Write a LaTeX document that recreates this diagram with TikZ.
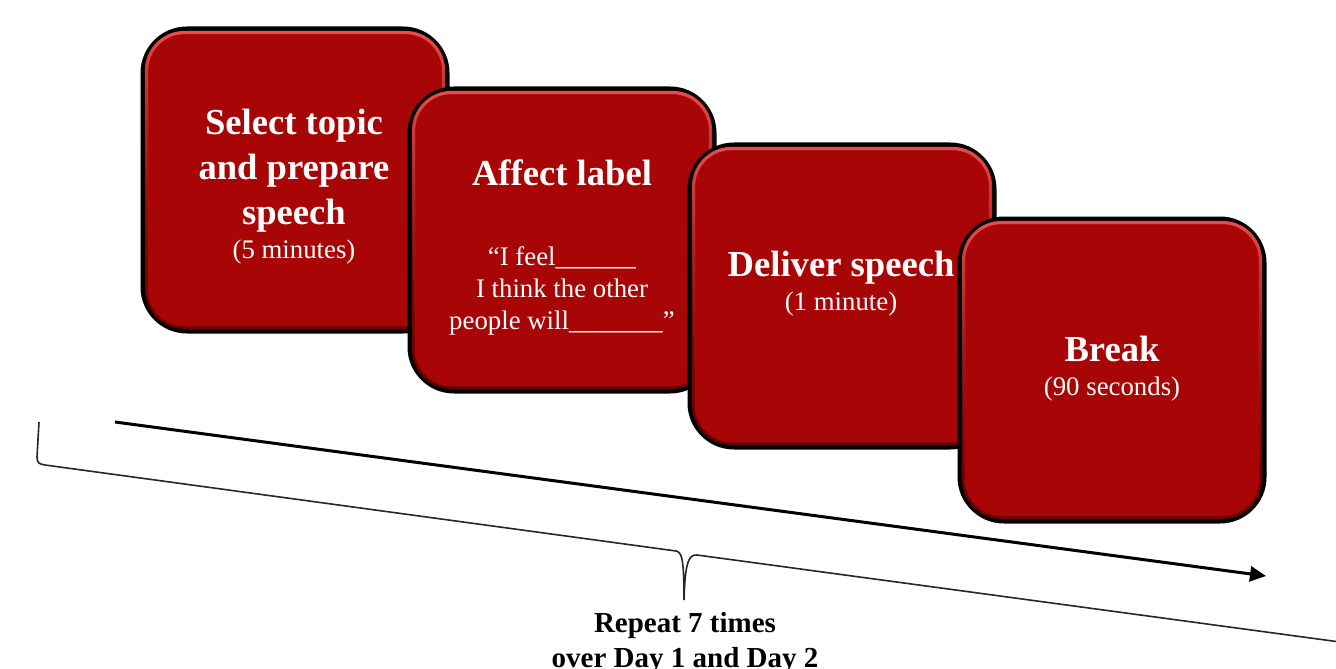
\documentclass[tikz,border=0pt]{standalone}
\usepackage{fontspec}
\setmainfont{Liberation Serif}
\usetikzlibrary{arrows.meta,fadings}
\definecolor{cardred}{RGB}{168,6,6}
\definecolor{cardhi}{RGB}{236,78,78}
\definecolor{carddk}{RGB}{110,0,0}
\begin{document}
\begin{tikzpicture}[x=0.5pt,y=-0.5pt,
  card/.style={draw=black, line width=2.5pt, fill=cardred, rounded corners=22pt,
    minimum width=152pt, minimum height=151pt, inner sep=0pt},
  head/.style={text=white, font=\fontsize{18.3}{22}\selectfont\bfseries, anchor=base, inner sep=0pt},
  sub/.style={text=white, font=\fontsize{13.4}{16}\selectfont, anchor=base, inner sep=0pt},
  foot/.style={text=black, font=\fontsize{14.5}{18}\selectfont\bfseries, anchor=base, inner sep=0pt},
  hi/.style={cardhi, line width=1.6pt, rounded corners=19pt, path fading=south},
  lo/.style={carddk, line width=1.4pt, rounded corners=19pt, path fading=north},
  flow/.style={line width=1.5pt, -{Triangle[length=8pt,width=7.5pt]}},
  brace/.style={line width=0.8pt, black!85}]
\useasboundingbox (0,0) rectangle (1336,668);
\clip (0,0) rectangle (1336,668);

% card 1
\node[card] (b1) at (295,180) {};
\draw[hi] ([xshift=3pt,yshift=-3pt]b1.north west) rectangle ([xshift=-3pt,yshift=3pt]b1.south east);
\draw[lo] ([xshift=3pt,yshift=-3pt]b1.north west) rectangle ([xshift=-3pt,yshift=3pt]b1.south east);
\node[head] (t1a) at (294,135) {Select topic};
\node[head] (t1b) at (294,180) {and prepare};
\node[head] (t1c) at (294,224) {speech};
\node[sub]  (t1d) at (294,258) {(5 minutes)};

% card 2
\node[card] (b2) at (562,240) {};
\draw[hi] ([xshift=3pt,yshift=-3pt]b2.north west) rectangle ([xshift=-3pt,yshift=3pt]b2.south east);
\draw[lo] ([xshift=3pt,yshift=-3pt]b2.north west) rectangle ([xshift=-3pt,yshift=3pt]b2.south east);
\node[head] (t2a) at (562,185) {Affect label};
\node[sub]  (t2b) at (562,265) {“I feel\_\_\_\_\_\_};
\node[sub]  (t2c) at (562,297) {I think the other};
\node[sub]  (t2d) at (562,329) {people will\_\_\_\_\_\_\_”};

% card 3
\node[card] (b3) at (842,296) {};
\draw[hi] ([xshift=3pt,yshift=-3pt]b3.north west) rectangle ([xshift=-3pt,yshift=3pt]b3.south east);
\draw[lo] ([xshift=3pt,yshift=-3pt]b3.north west) rectangle ([xshift=-3pt,yshift=3pt]b3.south east);
\node[head] (t3a) at (841,276) {Deliver speech};
\node[sub]  (t3b) at (841,310) {(1 minute)};

% card 4
\node[card] (b4) at (1112,370) {};
\draw[hi] ([xshift=3pt,yshift=-3pt]b4.north west) rectangle ([xshift=-3pt,yshift=3pt]b4.south east);
\draw[lo] ([xshift=3pt,yshift=-3pt]b4.north west) rectangle ([xshift=-3pt,yshift=3pt]b4.south east);
\node[head] (t4a) at (1112,361) {Break};
\node[sub]  (t4b) at (1112,395) {(90 seconds)};

% time arrow
\coordinate (as) at (115,422);
\coordinate (ae) at (1266,576);
\draw[flow] (as) -- (ae);

% brace
\coordinate (bl) at (39,422);
\coordinate (bt) at (684,600);
\coordinate (br) at (1340,642);
\draw[brace] (bl) -- (37,457) .. controls (37,463) and (39,464) .. (45,465)
  -- (676,551) .. controls (682,552) and (684,560) .. (bt)
  .. controls (685,565) and (688,554) .. (697,555) -- (br);

% label
\node[foot] (r1) at (685,632) {Repeat 7 times};
\node[foot] (r2) at (685,667) {over Day 1 and Day 2};
\end{tikzpicture}
\end{document}
